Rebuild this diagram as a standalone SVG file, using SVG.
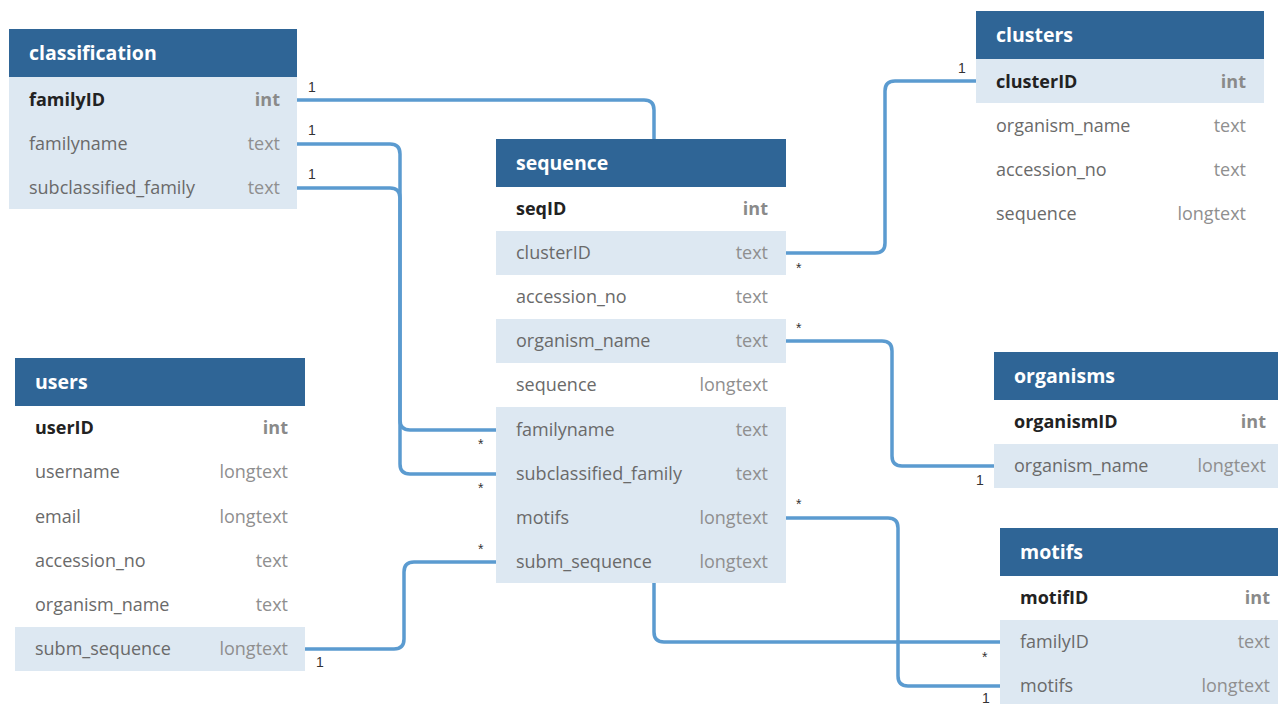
<svg xmlns="http://www.w3.org/2000/svg" width="1278" height="704" viewBox="0 0 1278 704">
<style>
.hd{fill:#2f6596}
.ht{font-family:"Open Sans",sans-serif;font-size:19.5px;font-weight:bold;fill:#fff}
.hl{fill:#dde8f2}
.k{font-family:"Open Sans",sans-serif;font-size:18px;font-weight:bold;fill:#222}
.kt{font-family:"Open Sans",sans-serif;font-size:18px;font-weight:bold;fill:#8a8a8a;text-anchor:end}
.n{font-family:"Open Sans",sans-serif;font-size:18px;fill:#6a6a6a}
.t{font-family:"Open Sans",sans-serif;font-size:18px;fill:#8f8f8f;text-anchor:end}
.c{fill:none;stroke:#5b9bd0;stroke-width:3.5}
.l{font-family:"Liberation Sans",sans-serif;font-size:14px;fill:#333}
</style>
<rect width="1278" height="704" fill="#fff"/>
<g id="connectors">
<path class="c" d="M297,100 H644 Q654,100 654,110 V139"/>
<path class="c" d="M297,144 H390 Q400,144 400,154 V420 Q400,430 410,430 H496"/>
<path class="c" d="M297,188 H390 Q400,188 400,198 V464 Q400,474 410,474 H496"/>
<path class="c" d="M786,253 H875 Q885,253 885,243 V91 Q885,81 895,81 H976"/>
<path class="c" d="M786,341 H882 Q892,341 892,351 V456 Q892,466 902,466 H994"/>
<path class="c" d="M786,518 H888 Q898,518 898,528 V676 Q898,686 908,686 H1000"/>
<path class="c" d="M654,583 V632 Q654,642 664,642 H1000"/>
<path class="c" d="M305,649 H394 Q404,649 404,639 V572 Q404,562 414,562 H496"/>
<text class="l" x="308" y="92">1</text>
<text class="l" x="308" y="135">1</text>
<text class="l" x="308" y="179">1</text>
<text class="l" x="478" y="449">*</text>
<text class="l" x="478" y="493">*</text>
<text class="l" x="796" y="273">*</text>
<text class="l" x="958" y="73">1</text>
<text class="l" x="796" y="333">*</text>
<text class="l" x="976" y="485">1</text>
<text class="l" x="796" y="509">*</text>
<text class="l" x="982" y="703">1</text>
<text class="l" x="982" y="662">*</text>
<text class="l" x="316" y="667">1</text>
<text class="l" x="478" y="554">*</text>
</g>
<g id="classification">
<rect class="hl" x="9" y="77" width="288" height="132"/>
<rect class="hd" x="9" y="29" width="288" height="48"/>
<text class="ht" x="29" y="60">classification</text>
<text class="k" x="29" y="106">familyID</text><text class="kt" x="280" y="106">int</text>
<text class="n" x="29" y="150">familyname</text><text class="t" x="280" y="150">text</text>
<text class="n" x="29" y="194">subclassified_family</text><text class="t" x="280" y="194">text</text>
</g>
<g id="sequence">
<rect class="hl" x="496" y="231" width="290" height="44"/>
<rect class="hl" x="496" y="319" width="290" height="44"/>
<rect class="hl" x="496" y="407" width="290" height="176"/>
<rect class="hd" x="496" y="139" width="290" height="48"/>
<text class="ht" x="516" y="170">sequence</text>
<text class="k" x="516" y="215">seqID</text><text class="kt" x="768" y="215">int</text>
<text class="n" x="516" y="259">clusterID</text><text class="t" x="768" y="259">text</text>
<text class="n" x="516" y="303">accession_no</text><text class="t" x="768" y="303">text</text>
<text class="n" x="516" y="347">organism_name</text><text class="t" x="768" y="347">text</text>
<text class="n" x="516" y="391">sequence</text><text class="t" x="768" y="391">longtext</text>
<text class="n" x="516" y="436">familyname</text><text class="t" x="768" y="436">text</text>
<text class="n" x="516" y="480">subclassified_family</text><text class="t" x="768" y="480">text</text>
<text class="n" x="516" y="524">motifs</text><text class="t" x="768" y="524">longtext</text>
<text class="n" x="516" y="568">subm_sequence</text><text class="t" x="768" y="568">longtext</text>
</g>
<g id="clusters">
<rect class="hl" x="976" y="59" width="288" height="44"/>
<rect class="hd" x="976" y="11" width="288" height="48"/>
<text class="ht" x="996" y="42">clusters</text>
<text class="k" x="996" y="88">clusterID</text><text class="kt" x="1246" y="88">int</text>
<text class="n" x="996" y="132">organism_name</text><text class="t" x="1246" y="132">text</text>
<text class="n" x="996" y="176">accession_no</text><text class="t" x="1246" y="176">text</text>
<text class="n" x="996" y="220">sequence</text><text class="t" x="1246" y="220">longtext</text>
</g>
<g id="users">
<rect class="hl" x="15" y="627" width="290" height="44"/>
<rect class="hd" x="15" y="358" width="290" height="48"/>
<text class="ht" x="35" y="389">users</text>
<text class="k" x="35" y="434">userID</text><text class="kt" x="288" y="434">int</text>
<text class="n" x="35" y="478">username</text><text class="t" x="288" y="478">longtext</text>
<text class="n" x="35" y="523">email</text><text class="t" x="288" y="523">longtext</text>
<text class="n" x="35" y="567">accession_no</text><text class="t" x="288" y="567">text</text>
<text class="n" x="35" y="611">organism_name</text><text class="t" x="288" y="611">text</text>
<text class="n" x="35" y="655">subm_sequence</text><text class="t" x="288" y="655">longtext</text>
</g>
<g id="organisms">
<rect class="hl" x="994" y="444" width="284" height="44"/>
<rect class="hd" x="994" y="352" width="284" height="48"/>
<text class="ht" x="1014" y="383">organisms</text>
<text class="k" x="1014" y="428">organismID</text><text class="kt" x="1266" y="428">int</text>
<text class="n" x="1014" y="472">organism_name</text><text class="t" x="1266" y="472">longtext</text>
</g>
<g id="motifs">
<rect class="hl" x="1000" y="620" width="278" height="84"/>
<rect class="hd" x="1000" y="528" width="278" height="48"/>
<text class="ht" x="1020" y="559">motifs</text>
<text class="k" x="1020" y="604">motifID</text><text class="kt" x="1270" y="604">int</text>
<text class="n" x="1020" y="648">familyID</text><text class="t" x="1270" y="648">text</text>
<text class="n" x="1020" y="692">motifs</text><text class="t" x="1270" y="692">longtext</text>
</g>
</svg>
